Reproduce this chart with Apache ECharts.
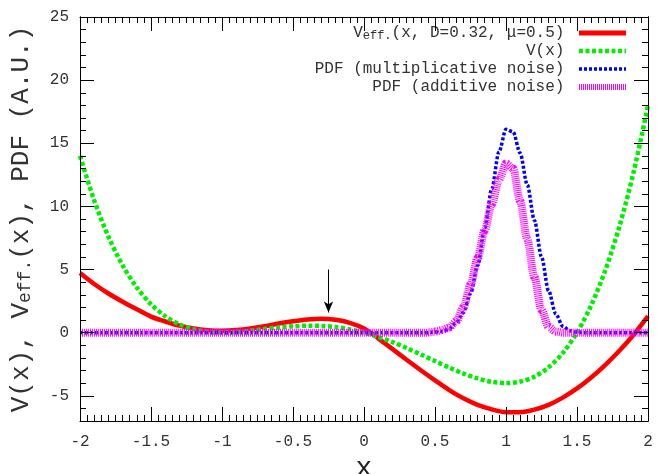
<!DOCTYPE html>
<html>
<head>
<meta charset="utf-8">
<script src="https://cdn.jsdelivr.net/npm/echarts@6/dist/echarts.min.js"></script>
<style>
  html, body { margin: 0; padding: 0; background: #fff; }
  #chart { width: 658px; height: 474px; }
</style>
</head>
<body>
<div id="chart"></div>
<script>
// x grid for the two potentials
const xGrid = [-2.0, -1.9, -1.8, -1.7, -1.6, -1.5, -1.4, -1.3, -1.2, -1.1, -1.0,
  -0.9, -0.8, -0.7, -0.6, -0.5, -0.4, -0.3, -0.2, -0.1, 0.0,
  0.1, 0.2, 0.3, 0.4, 0.5, 0.6, 0.7, 0.8, 0.9, 1.0,
  1.1, 1.2, 1.3, 1.4, 1.5, 1.6, 1.7, 1.8, 1.9, 2.0]

// V(x)
const vPot = [14.0, 10.47, 7.6, 5.33, 3.57, 2.25, 1.3, 0.66, 0.26, 0.06, 0.0,
  0.04, 0.15, 0.28, 0.4, 0.5, 0.55, 0.53, 0.44, 0.26, 0.0,
  -0.34, -0.75, -1.22, -1.73, -2.25, -2.77, -3.24, -3.63, -3.9, -4.0,
  -3.88, -3.49, -2.75, -1.61, 0.0, 2.16, 4.96, 8.47, 12.78, 18.0]

// V_eff(x)
const vEff = [4.72, 3.85, 3.1, 2.45, 1.85, 1.27, 0.88, 0.55, 0.32, 0.19, 0.15,
  0.2, 0.32, 0.5, 0.72, 0.9, 1.04, 1.1, 1.02, 0.78, 0.33,
  -0.45, -1.3, -2.15, -2.98, -3.78, -4.55, -5.2, -5.72, -6.08, -6.3,
  -6.3, -6.1, -5.72, -5.15, -4.42, -3.55, -2.55, -1.42, -0.15, 1.3]

// PDFs (flat zero outside the peak)
const pdfX = [-2, 0.45, 0.5, 0.55, 0.6, 0.65, 0.7, 0.75, 0.8, 0.85, 0.9, 0.95, 1.0,
  1.05, 1.1, 1.15, 1.2, 1.25, 1.3, 1.35, 1.4, 1.45, 1.5, 1.55, 2]
const pdfMult = [0, 0, 0.05, 0.1, 0.3, 0.8, 1.6, 3.1, 5.3, 8.3, 11.4, 14.3, 16.1,
  15.9, 14.2, 11.7, 8.9, 6.0, 3.3, 1.5, 0.5, 0.15, 0.03, 0, 0]
const pdfAdd = [0, 0, 0.08, 0.2, 0.4, 0.9, 2.0, 3.8, 5.9, 8.1, 10.2, 12.1, 13.4,
  13.0, 10.4, 7.4, 4.4, 1.8, 0.45, 0.08, 0, 0, 0, 0, 0]

const yMajorTicks = [-5, 0, 5, 10, 15, 20, 25]

// arrow pointing at the barrier top of V_eff
const arrowX = -0.25
const arrowFrom = 5.0
const arrowTo = 1.6

const NAME_VEFF = 'V_eff'
const NAME_V = 'V(x)'
const NAME_MULT = 'PDF (multiplicative noise)'
const NAME_ADD = 'PDF (additive noise)'

const mono = "'Liberation Mono', 'DejaVu Sans Mono', monospace"
const pairs = (xs, ys) => xs.map((x, i) => [x, ys[i]])

// fresh style objects for every axis
const axisLine = () => ({ show: true, onZero: false, lineStyle: { color: '#000', width: 1 } })
const tickStyle = () => ({ color: '#000', width: 1 })
const labelStyle = () => ({ fontFamily: mono, fontSize: 16, color: '#333' })

const xAxisCfg = (pos) => ({
  type: 'value', min: -2, max: 2, interval: 0.5, position: pos, z: 10,
  axisLine: axisLine(),
  splitLine: { show: false },
  axisTick: { show: true, inside: true, interval: 0, length: 14, lineStyle: tickStyle() },
  minorTick: { show: true, splitNumber: 10, length: 6, lineStyle: tickStyle() },
  axisLabel: pos === 'bottom' ? Object.assign({ margin: 13 }, labelStyle()) : { show: false }
})
const yMinorCfg = (pos) => ({
  type: 'value', min: -7, max: 25, interval: 1, position: pos, z: 10,
  axisLine: axisLine(),
  splitLine: { show: false },
  axisTick: { show: true, inside: true, interval: 0, length: 6, lineStyle: tickStyle() },
  axisLabel: { show: false }
})
const yMajorCfg = (pos) => ({
  type: 'value', min: -7, max: 25, position: pos, z: 10,
  axisLine: axisLine(),
  splitLine: { show: false },
  axisTick: { show: true, inside: true, interval: 0, length: 14, lineStyle: tickStyle(), customValues: yMajorTicks },
  axisLabel: pos === 'left' ? Object.assign({ margin: 11, customValues: yMajorTicks }, labelStyle()) : { show: false }
})

const xBottom = xAxisCfg('bottom')
Object.assign(xBottom, {
  name: 'x', nameLocation: 'middle', nameGap: 15,
  nameTextStyle: { fontFamily: mono, fontSize: 28, color: '#222' }
})
const yLeft = yMinorCfg('left')
Object.assign(yLeft, {
  name: 'V(x), V{sub|eff.}(x), PDF (A.U.)', nameLocation: 'middle', nameGap: 46,
  nameTextStyle: {
    fontFamily: mono, fontSize: 26, color: '#333',
    rich: { sub: { fontFamily: mono, fontSize: 18, color: '#333', verticalAlign: 'bottom' } }
  }
})

const chart = echarts.init(document.getElementById('chart'))
chart.setOption({
  animation: false,
  backgroundColor: '#fff',
  grid: { left: 80, right: 10, top: 17, bottom: 53, outerBoundsMode: 'none' },
  legend: {
    orient: 'vertical',
    right: 24,
    top: 19,
    align: 'right',
    itemWidth: 47,
    itemHeight: 18,
    itemGap: 0,
    itemStyle: { opacity: 0 },
    data: [
      { name: NAME_VEFF, lineStyle: { width: 5 } },
      { name: NAME_V, lineStyle: { width: 4.5 } },
      { name: NAME_MULT, lineStyle: { width: 3.5 } },
      { name: NAME_ADD, lineStyle: { width: 6 } }
    ],
    formatter: (name) => (name === NAME_VEFF ? 'V{sub|eff.}(x, D=0.32, μ=0.5)' : name) + ' ',
    textStyle: {
      fontFamily: mono, fontSize: 16, color: '#333', lineHeight: 18,
      rich: { sub: { fontFamily: mono, fontSize: 12, lineHeight: 14, verticalAlign: 'bottom', color: '#333' } }
    }
  },
  xAxis: [xBottom, xAxisCfg('top')],
  yAxis: [yLeft, yMajorCfg('left'), yMinorCfg('right'), yMajorCfg('right')],
  series: [
    {
      name: NAME_VEFF,
      type: 'line',
      data: pairs(xGrid, vEff),
      symbol: 'none',
      smooth: 0.3,
      color: '#ff0000',
      lineStyle: { color: '#ff0000', width: 4.5 },
      markLine: {
        silent: true,
        symbol: ['none', 'arrow'],
        symbolSize: [7, 11],
        label: { show: false },
        lineStyle: { color: '#000', width: 1, type: 'solid' },
        data: [[{ coord: [arrowX, arrowFrom] }, { coord: [arrowX, arrowTo] }]]
      }
    },
    {
      name: NAME_V,
      type: 'line',
      data: pairs(xGrid, vPot),
      symbol: 'none',
      smooth: 0.3,
      color: '#00ee00',
      lineStyle: { color: '#00ee00', width: 4.5, type: [4, 2.5] }
    },
    {
      name: NAME_MULT,
      type: 'line',
      data: pairs(pdfX, pdfMult),
      symbol: 'none',
      smooth: 0.3,
      smoothMonotone: 'x',
      color: '#0000ff',
      lineStyle: { color: '#0000ff', width: 3.5, type: [3, 2] }
    },
    {
      name: NAME_ADD,
      type: 'line',
      data: pairs(pdfX, pdfAdd),
      symbol: 'none',
      smooth: 0.3,
      smoothMonotone: 'x',
      color: '#ff00ff',
      lineStyle: { color: '#ff00ff', width: 8, type: [1, 1] }
    }
  ]
})
</script>
</body>
</html>
